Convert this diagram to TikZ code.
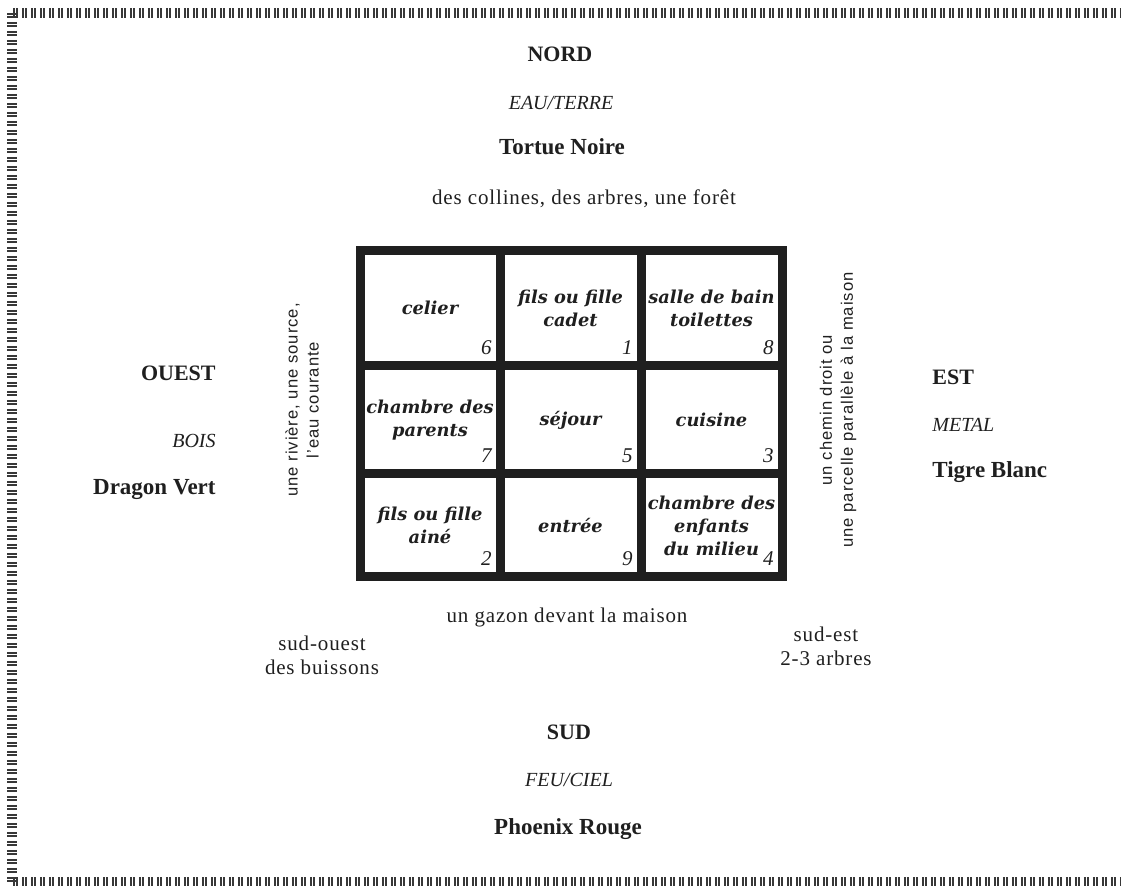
\documentclass[tikz,border=0pt]{standalone}
\usepackage{fontspec}
\setmainfont{Liberation Serif}
\setsansfont{Liberation Sans}
\newfontfamily\roomfont{DejaVu Serif}
\usetikzlibrary{positioning}

\begin{document}
\begin{tikzpicture}[
        x=0.5pt, y=-0.5pt, % 1 px = 0.5pt, ось y вниз
        ink/.style={text=black!88},
        cardinal/.style={ink, inner sep=0pt, font=\fontsize{11}{13}\selectfont\bfseries}, % стороны света
        element/.style={ink, inner sep=0pt, font=\fontsize{10}{12}\selectfont\itshape},
        animal/.style={ink, inner sep=0pt, font=\fontsize{11.5}{13}\selectfont\bfseries},
        site/.style={ink, inner sep=0pt, align=center, font=\fontsize{10.5}{12}\selectfont\addfontfeature{LetterSpace=4}},
        side/.style={ink, inner sep=0pt, align=center, rotate=90, font=\sffamily\fontsize{8.3}{10.5}\selectfont\addfontfeature{LetterSpace=6}},
        cell/.style={draw=black!88, line width=4.5pt, outer sep=0pt, inner sep=0pt, align=center, ink,
            font=\roomfont\bfseries\itshape\fontsize{8.9}{11.5}\selectfont}, % комнаты
        colA/.style={minimum width=70pt}, colB/.style={minimum width=70.5pt},
        rowA/.style={minimum height=57.75pt}, rowB/.style={minimum height=54pt}, rowC/.style={minimum height=51.5pt},
        num/.style={ink, inner sep=0pt, font=\fontsize{10.5}{12}\selectfont\itshape},
        ticks/.style={draw=black!78, line width=5pt, dash pattern=on 0.9pt off 0.6pt on 0.9pt off 2.1pt},
    ]
    \useasboundingbox (0,0) rectangle (1121,886);

    % рамка из штрихов
    \draw[ticks] (13,13.5) -- (1121,13.5);
    \draw[ticks] (12,13) -- (12,886);
    \draw[ticks] (13,882) -- (1121,882);

    % север
    \node[cardinal, anchor=base] (nord) at (560,62) {NORD};
    \node[element, anchor=base] (eau) at (561,110) {EAU/TERRE};
    \node[animal, anchor=base] (tortue) at (562,155) {Tortue Noire};
    \node[site, anchor=base] (collines) at (584,205) {des collines, des arbres, une forêt};

    % запад
    \node[cardinal, anchor=base east] (ouest) at (216,381) {OUEST};
    \node[element, anchor=base east] (bois) at (216,448) {BOIS};
    \node[animal, anchor=base east] (dragon) at (216,495) {Dragon Vert};
    \node[side] (riviere) at (302,400) {une rivière, une source,\\l'eau courante};

    % восток
    \node[cardinal, anchor=base west] (est) at (932,385) {EST};
    \node[element, anchor=base west] (metal) at (932,432) {METAL};
    \node[animal, anchor=base west] (tigre) at (932,478) {Tigre Blanc};
    \node[side] (chemin) at (838,410) {un chemin droit ou\\une parcelle parallèle à la maison};

    % дом
    \node[cell, colA, rowA] (c6) at (430,308.25) {celier};
    \node[cell, colB, rowA] (c1) at (570.5,308.25) {fils ou fille\\cadet};
    \node[cell, colB, rowA] (c8) at (711.5,308.25) {salle de bain\\toilettes};
    \node[cell, colA, rowB] (c7) at (430,420) {chambre des\\parents};
    \node[cell, colB, rowB] (c5) at (570.5,420) {séjour};
    \node[cell, colB, rowB] (c3) at (711.5,420) {cuisine};
    \node[cell, colA, rowC] (c2) at (430,525.5) {fils ou fille\\ainé};
    \node[cell, colB, rowC] (c9) at (570.5,525.5) {entrée};
    \node[cell, colB, rowC] (c4) at (711.5,525.5) {chambre des\\enfants\\du milieu};

    \node[num, above left=5.5pt and 4pt of c6.south east] (n6) {6};
    \node[num, above left=5.5pt and 4pt of c1.south east] (n1) {1};
    \node[num, above left=5.5pt and 4pt of c8.south east] (n8) {8};
    \node[num, above left=5.5pt and 4pt of c7.south east] (n7) {7};
    \node[num, above left=5.5pt and 4pt of c5.south east] (n5) {5};
    \node[num, above left=5.5pt and 4pt of c3.south east] (n3) {3};
    \node[num, above left=5.5pt and 4pt of c2.south east] (n2) {2};
    \node[num, above left=5.5pt and 4pt of c9.south east] (n9) {9};
    \node[num, above left=5.5pt and 4pt of c4.south east] (n4) {4};

    % юг
    \node[site, anchor=base] (gazon) at (567,623) {un gazon devant la maison};
    \node[site] (sudouest) at (322,655) {sud-ouest\\des buissons};
    \node[site] (sudest) at (826,646) {sud-est\\2-3 arbres};
    \node[cardinal, anchor=base] (sud) at (569,740) {SUD};
    \node[element, anchor=base] (feu) at (569,787) {FEU/CIEL};
    \node[animal, anchor=base] (phoenix) at (568,835) {Phoenix Rouge};
\end{tikzpicture}
\end{document}
